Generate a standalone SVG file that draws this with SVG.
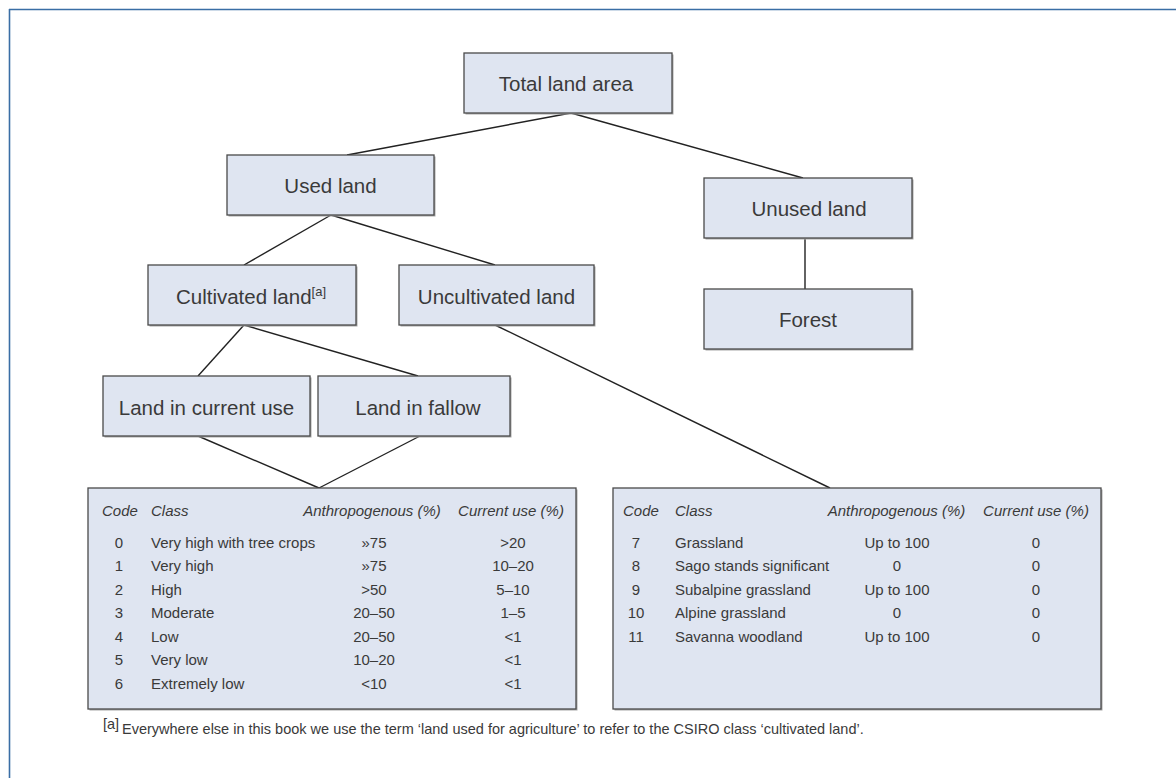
<svg xmlns="http://www.w3.org/2000/svg" width="1176" height="778" viewBox="0 0 1176 778">
<style>
.box{fill:#dfe5f1;stroke:#4a4a4a;stroke-width:1.3}
.sh{fill:#a8a8a8}
.lbl{font-family:"Liberation Sans",Arial,sans-serif;font-size:20.5px;fill:#3a3a3a;text-anchor:middle}
.t{font-family:"Liberation Sans",Arial,sans-serif;font-size:15px;fill:#3a3a3a}
.h{font-style:italic}
.m{text-anchor:middle}
.con{stroke:#222;stroke-width:1.4;fill:none}
.fn{font-family:"Liberation Sans",Arial,sans-serif;font-size:14.5px;fill:#3a3a3a}
</style>
<rect width="1176" height="778" fill="#fff"/>
<g id="frame" stroke="#3a6ea5" stroke-width="1.6" fill="none">
<line x1="9" y1="9.5" x2="1176" y2="9.5"/>
<line x1="9.5" y1="9" x2="9.5" y2="778"/>
</g>
<g id="connectors" class="con">
<line x1="571" y1="113" x2="347" y2="155"/>
<line x1="571" y1="113" x2="803" y2="178"/>
<line x1="805" y1="238" x2="805" y2="289"/>
<line x1="331" y1="215" x2="244" y2="265"/>
<line x1="331" y1="215" x2="495" y2="265"/>
<line x1="244" y1="325" x2="198" y2="376"/>
<line x1="244" y1="325" x2="418" y2="376"/>
<line x1="198" y1="436" x2="319" y2="488"/>
<line x1="420" y1="436" x2="319" y2="488"/>
<line x1="495" y1="325" x2="830" y2="488"/>
</g>
<g id="total">
<rect class="sh" x="465.5" y="54.5" width="208" height="60"/>
<rect class="box" x="464" y="53" width="208" height="60"/>
<text class="lbl" x="566" y="90.5">Total land area</text>
</g>
<g id="used">
<rect class="sh" x="228.5" y="156.5" width="207" height="60"/>
<rect class="box" x="227" y="155" width="207" height="60"/>
<text class="lbl" x="330.5" y="192.5">Used land</text>
</g>
<g id="unused">
<rect class="sh" x="705.5" y="179.5" width="208" height="60"/>
<rect class="box" x="704" y="178" width="208" height="60"/>
<text class="lbl" x="809" y="216">Unused land</text>
</g>
<g id="forest">
<rect class="sh" x="705.5" y="290.5" width="208" height="60"/>
<rect class="box" x="704" y="289" width="208" height="60"/>
<text class="lbl" x="808" y="327">Forest</text>
</g>
<g id="cultivated">
<rect class="sh" x="149.5" y="266.5" width="208" height="60"/>
<rect class="box" x="148" y="265" width="208" height="60"/>
<text class="lbl" x="251" y="303.5">Cultivated land<tspan font-size="13" dy="-8">[a]</tspan></text>
</g>
<g id="uncultivated">
<rect class="sh" x="400.5" y="266.5" width="195" height="60"/>
<rect class="box" x="399" y="265" width="195" height="60"/>
<text class="lbl" x="496.5" y="303.5">Uncultivated land</text>
</g>
<g id="currentuse">
<rect class="sh" x="104.5" y="377.5" width="207" height="60"/>
<rect class="box" x="103" y="376" width="207" height="60"/>
<text class="lbl" x="206.5" y="414.5">Land in current use</text>
</g>
<g id="fallow">
<rect class="sh" x="319.5" y="377.5" width="192" height="60"/>
<rect class="box" x="318" y="376" width="192" height="60"/>
<text class="lbl" x="418" y="414.5">Land in fallow</text>
</g>
<g id="table-cultivated">
<rect class="sh" x="89.5" y="489.5" width="488" height="221"/>
<rect class="box" x="88" y="488" width="488" height="221"/>
<g class="t">
<text class="h" x="102" y="515.5">Code</text>
<text class="h" x="151" y="515.5">Class</text>
<text class="h m" x="372" y="515.5">Anthropogenous (%)</text>
<text class="h m" x="511" y="515.5">Current use (%)</text>
<text class="m" x="119" y="547.5">0</text><text x="151" y="547.5">Very high with tree crops</text><text class="m" x="374" y="547.5">»75</text><text class="m" x="513" y="547.5">&gt;20</text>
<text class="m" x="119" y="571">1</text><text x="151" y="571">Very high</text><text class="m" x="374" y="571">»75</text><text class="m" x="513" y="571">10–20</text>
<text class="m" x="119" y="594.5">2</text><text x="151" y="594.5">High</text><text class="m" x="374" y="594.5">&gt;50</text><text class="m" x="513" y="594.5">5–10</text>
<text class="m" x="119" y="618">3</text><text x="151" y="618">Moderate</text><text class="m" x="374" y="618">20–50</text><text class="m" x="513" y="618">1–5</text>
<text class="m" x="119" y="641.5">4</text><text x="151" y="641.5">Low</text><text class="m" x="374" y="641.5">20–50</text><text class="m" x="513" y="641.5">&lt;1</text>
<text class="m" x="119" y="665">5</text><text x="151" y="665">Very low</text><text class="m" x="374" y="665">10–20</text><text class="m" x="513" y="665">&lt;1</text>
<text class="m" x="119" y="688.5">6</text><text x="151" y="688.5">Extremely low</text><text class="m" x="374" y="688.5">&lt;10</text><text class="m" x="513" y="688.5">&lt;1</text>
</g>
</g>
<g id="table-uncultivated">
<rect class="sh" x="614.5" y="489.5" width="488" height="221"/>
<rect class="box" x="613" y="488" width="488" height="221"/>
<g class="t">
<text class="h" x="623" y="515.5">Code</text>
<text class="h" x="675" y="515.5">Class</text>
<text class="h m" x="896.5" y="515.5">Anthropogenous (%)</text>
<text class="h m" x="1036" y="515.5">Current use (%)</text>
<text class="m" x="636" y="547.5">7</text><text x="675" y="547.5">Grassland</text><text class="m" x="897" y="547.5">Up to 100</text><text class="m" x="1036" y="547.5">0</text>
<text class="m" x="636" y="571">8</text><text x="675" y="571">Sago stands significant</text><text class="m" x="897" y="571">0</text><text class="m" x="1036" y="571">0</text>
<text class="m" x="636" y="594.5">9</text><text x="675" y="594.5">Subalpine grassland</text><text class="m" x="897" y="594.5">Up to 100</text><text class="m" x="1036" y="594.5">0</text>
<text class="m" x="636" y="618">10</text><text x="675" y="618">Alpine grassland</text><text class="m" x="897" y="618">0</text><text class="m" x="1036" y="618">0</text>
<text class="m" x="636" y="641.5">11</text><text x="675" y="641.5">Savanna woodland</text><text class="m" x="897" y="641.5">Up to 100</text><text class="m" x="1036" y="641.5">0</text>
</g>
</g>
<g id="footnote">
<text class="fn" x="103" y="729" font-size="10">[a]</text>
<text class="fn" x="122" y="734">Everywhere else in this book we use the term ‘land used for agriculture’ to refer to the CSIRO class ‘cultivated land’.</text>
</g>
</svg>
